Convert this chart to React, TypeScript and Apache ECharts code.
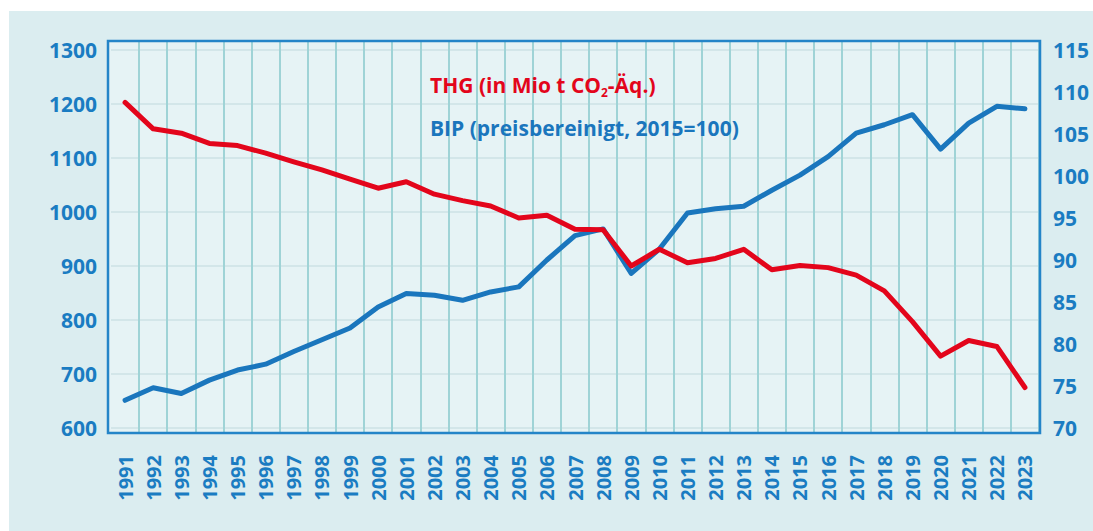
import React, { useEffect, useRef } from "react";
import * as echarts from "echarts";

const years = [
  "1991", "1992", "1993", "1994", "1995", "1996", "1997", "1998", "1999", "2000",
  "2001", "2002", "2003", "2004", "2005", "2006", "2007", "2008", "2009", "2010",
  "2011", "2012", "2013", "2014", "2015", "2016", "2017", "2018", "2019", "2020",
  "2021", "2022", "2023",
];

// Treibhausgasemissionen (Mio t CO2-Äq.) – left axis
const thg = [
  1203, 1154, 1146, 1127, 1123, 1109, 1093, 1078, 1061, 1044,
  1056, 1033, 1021, 1011, 989, 994, 968, 967, 900, 931,
  906, 914, 931, 893, 901, 897, 883, 854, 797, 733,
  762, 751, 675,
];

// BIP preisbereinigt (2015=100) – right axis
const bip = [
  73.3, 74.8, 74.1, 75.7, 76.9, 77.6, 79.1, 80.5, 81.9, 84.4,
  86.0, 85.8, 85.2, 86.2, 86.8, 90.0, 92.9, 93.7, 88.4, 91.3,
  95.6, 96.1, 96.4, 98.3, 100.1, 102.3, 105.1, 106.1, 107.3, 103.2,
  106.3, 108.3, 108.0,
];

const leftMin = 600;
const leftMax = 1300;
const leftStep = 100;
const rightMin = 70;
const rightMax = 115;
const rightStep = 5;

const RED = "#e3051b";
const BLUE = "#1a76bd";
const TEXT_BLUE = "#1a7cc2";
const FONT = "'Open Sans', 'Noto Sans', sans-serif";

export default function App() {
  const ref = useRef<HTMLDivElement>(null);

  useEffect(() => {
    if (!ref.current) return;
    const chart = echarts.init(ref.current, null, { renderer: "svg" });
    const gridLeft = 111;
    const gridRight = 54;
    chart.setOption({
      animation: false,
      backgroundColor: "#ffffff",
      textStyle: { fontFamily: FONT },
      grid: [
        { left: gridLeft, right: gridRight, top: 50, bottom: 103 },
        { left: gridLeft, right: gridRight, top: 41, bottom: 98 },
      ],
      xAxis: [
        {
          type: "category",
          gridIndex: 0,
          data: years,
          boundaryGap: true,
          z: 2,
          axisLine: { show: false },
          axisTick: { show: false },
          splitLine: { show: false },
          axisLabel: {
            rotate: 90,
            margin: 27,
            color: TEXT_BLUE,
            fontFamily: FONT,
            fontWeight: "bold",
            fontSize: 20,
            interval: 0,
            padding: [0, 0, 12, 0],
          },
        },
        {
          type: "category",
          gridIndex: 1,
          data: years,
          boundaryGap: true,
          z: 2,
          axisLine: { show: false },
          axisTick: { show: false, interval: 0 },
          axisLabel: { show: false, interval: 0 },
          splitLine: {
            show: true,
            interval: (index: number) => index !== 0,
            lineStyle: { color: "#9fd3d6", width: 2 },
          },
        },
      ],
      yAxis: [
        {
          type: "value",
          gridIndex: 0,
          min: leftMin,
          max: leftMax,
          interval: leftStep,
          z: 2,
          axisLine: { show: false },
          axisTick: { show: false },
          splitLine: { show: true, lineStyle: { color: "#d3e6e9", width: 2 } },
          axisLabel: {
            margin: 14,
            color: TEXT_BLUE,
            fontFamily: FONT,
            fontWeight: "bold",
            fontSize: 21,
            formatter: (v: number) => String(v),
          },
        },
        {
          type: "value",
          gridIndex: 0,
          position: "right",
          min: rightMin,
          max: rightMax,
          interval: rightStep,
          z: 2,
          axisLine: { show: false },
          axisTick: { show: false },
          splitLine: { show: false },
          axisLabel: {
            margin: 14,
            color: TEXT_BLUE,
            fontFamily: FONT,
            fontWeight: "bold",
            fontSize: 21,
            formatter: (v: number) => String(v),
          },
        },
        {
          type: "value",
          gridIndex: 1,
          show: false,
          min: 0,
          max: 1,
        },
      ],
      graphic: [
        {
          type: "rect",
          z: 0,
          shape: { x: 9, y: 11, width: 1084, height: 520 },
          style: { fill: "#dbedf0" },
        },
        {
          type: "rect",
          z: 1,
          shape: { x: 108, y: 41, width: 932, height: 392 },
          style: { fill: "#e6f3f5" },
        },
        {
          type: "rect",
          z: 20,
          shape: { x: 108, y: 41, width: 932, height: 392 },
          style: { fill: "none", stroke: "#2485c8", lineWidth: 2.5 },
        },
        {
          type: "text",
          z: 21,
          x: 430,
          y: 85,
          style: {
            text: "THG (in Mio t CO{sub|2}-Äq.)",
            fill: RED,
            font: `bold 21px ${FONT}`,
            verticalAlign: "middle",
            rich: {
              sub: {
                fontSize: 12,
                fontWeight: "bold",
                fontFamily: FONT,
                fill: RED,
                padding: [14, 0, 0, 0],
              },
            },
          },
        },
        {
          type: "text",
          z: 21,
          x: 430,
          y: 128,
          style: {
            text: "BIP (preisbereinigt, 2015=100)",
            fill: BLUE,
            font: `bold 21px ${FONT}`,
            verticalAlign: "middle",
          },
        },
      ],
      series: [
        {
          name: "BIP (preisbereinigt, 2015=100)",
          type: "line",
          xAxisIndex: 0,
          yAxisIndex: 1,
          data: bip,
          symbol: "none",
          z: 5,
          lineStyle: { color: BLUE, width: 5, join: "round", cap: "round" },
        },
        {
          name: "THG (in Mio t CO2-Äq.)",
          type: "line",
          xAxisIndex: 0,
          yAxisIndex: 0,
          data: thg,
          symbol: "none",
          z: 6,
          lineStyle: { color: RED, width: 5, join: "round", cap: "round" },
        },
      ],
    });
    return () => chart.dispose();
  }, []);

  return (
    <div
      ref={ref}
      style={{ position: "fixed", left: 0, top: 0, width: 1093, height: 531 }}
    />
  );
}
